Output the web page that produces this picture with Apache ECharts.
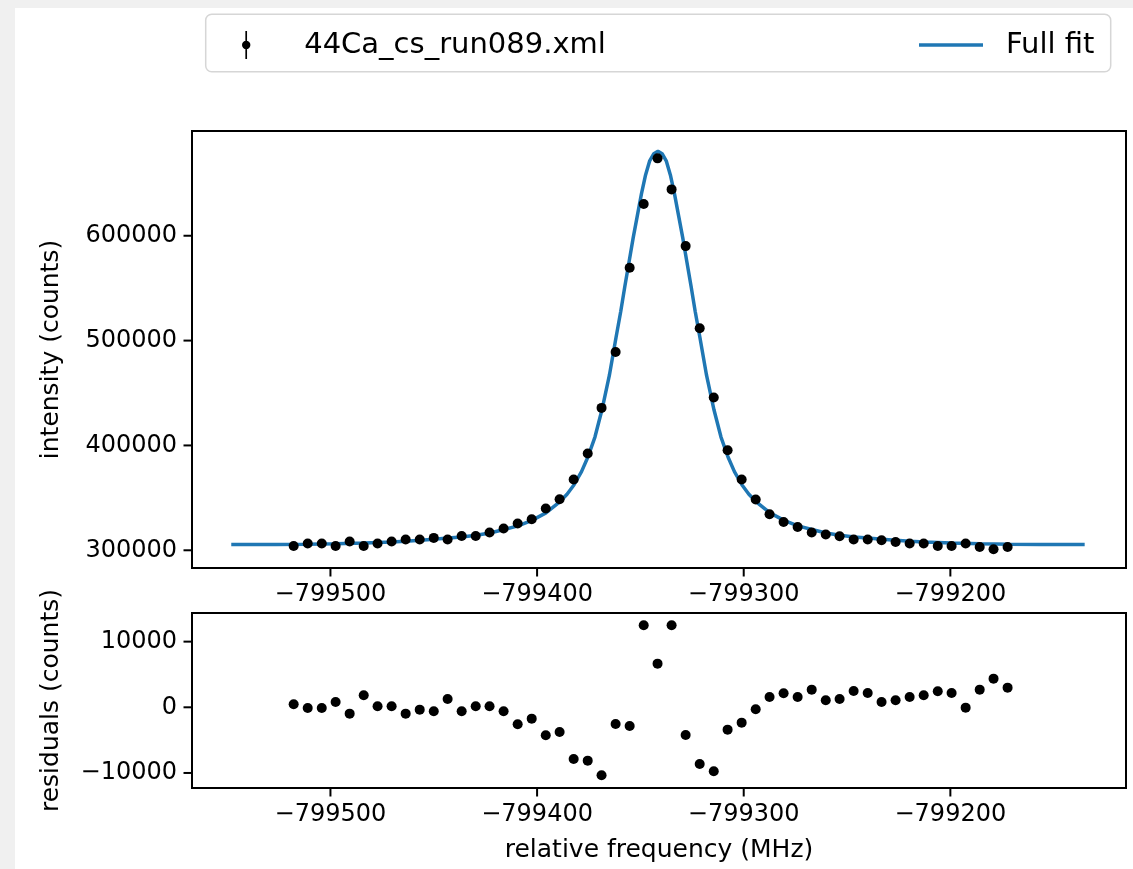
<!DOCTYPE html>
<html>
<head>
<meta charset="utf-8">
<script src="https://cdn.jsdelivr.net/npm/echarts@6/dist/echarts.min.js"></script>
</head>
<body style="margin: 0; background: #f0f0f0;">
<div id="figure" style="position: absolute; left: 15px; top: 8px; width: 1118px; height: 861px; background: #fff;">
  <div id="top" style="position: absolute; left: 0; top: 0; width: 1118px; height: 861px;"></div>
  <div id="bottom" style="position: absolute; left: 0; top: 0; width: 1118px; height: 861px;"></div>
</div>
<script>
// measured points (MHz, counts)
const freq = [
  -799517.8, -799511.0, -799504.2, -799497.5, -799490.7, -799483.9, -799477.2, -799470.4,
  -799463.6, -799456.8, -799450.0, -799443.3, -799436.5, -799429.7, -799423.0, -799416.2,
  -799409.4, -799402.6, -799395.8, -799389.1, -799382.3, -799375.5, -799368.8, -799362.0,
  -799355.2, -799348.4, -799341.7, -799334.9, -799328.1, -799321.3, -799314.5, -799307.8,
  -799301.0, -799294.2, -799287.5, -799280.7, -799273.9, -799267.1, -799260.3, -799253.6,
  -799246.8, -799240.0, -799233.3, -799226.5, -799219.7, -799212.9, -799206.1, -799199.4,
  -799192.6, -799185.8, -799179.1, -799172.3
];
const intensity = [
  304100, 306400, 306400, 304100, 308300, 304100, 306400, 308300,
  310200, 310200, 311800, 310200, 313700, 313700, 316900, 320700,
  325500, 329600, 339800, 348700, 367500, 392300, 435800, 489200,
  569400, 630200, 673800, 644200, 590100, 511800, 445700, 395400,
  367500, 348400, 334400, 327000, 322200, 316900, 315000, 313400,
  310200, 310200, 309500, 307900, 306400, 306400, 304100, 304100,
  306400, 303100, 301000, 303100
];
const residuals = [
  457, -100, -100, 812, -964, 1827, 152, 152,
  -964, -355, -609, 1269, -609, 152, 152, -609,
  -2589, -1726, -4264, -3756, -7868, -8122, -10355, -2538,
  -2843, 12487, 6650, 12487, -4213, -8630, -9746, -3401,
  -2335, -305, 1574, 2132, 1574, 2690, 1066, 1269,
  2487, 2183, 812, 1066, 1574, 1827, 2437, 2183,
  -51, 2690, 4365, 2995
];

// fit curve
const fitFreq = [
  -799548.0, -799526.5, -799511.5, -799497.5, -799483.5, -799470.5, -799463.5, -799456.5,
  -799449.9, -799443.1, -799436.5, -799429.5, -799422.8, -799416.0, -799409.2, -799402.5,
  -799395.7, -799388.9, -799385.5, -799382.1, -799378.5, -799375.4, -799372.0, -799368.6,
  -799365.0, -799361.8, -799359.5, -799357.5, -799355.5, -799353.5, -799351.5, -799349.5,
  -799347.5, -799345.5, -799343.5, -799341.5,
  -799339.5, -799337.5, -799335.5, -799333.5, -799331.5, -799329.5, -799327.5, -799325.5,
  -799323.5, -799321.2, -799318.0, -799314.4, -799311.0, -799307.6, -799304.5, -799300.9,
  -799297.5, -799294.1, -799287.3, -799280.5, -799273.8, -799267.0, -799260.2, -799253.5,
  -799246.5, -799239.9, -799233.1, -799226.5, -799219.5, -799212.5, -799199.5, -799185.5,
  -799171.5, -799156.5, -799135.0
];
const fitIntensity = [
  305400, 305600, 305800, 306200, 306900, 307900, 308600, 309500,
  310600, 311700, 312700, 314300, 316500, 319800, 323300, 328500,
  335700, 346500, 353500, 362500, 375000, 389000, 408000, 434000,
  467000, 503000, 528000, 552000, 575000, 598000, 619000, 640000,
  658000, 671500, 678300, 680700,
  678300, 671500, 658000, 640000, 619000, 598000, 575000, 552000,
  528000, 503000, 467000, 434000, 408000, 389000, 375000, 362500,
  353500, 346500, 335700, 328500, 323300, 319800, 316500, 314300,
  312700, 311700, 310600, 309500, 308600, 307900, 306900, 306200,
  305800, 305600, 305400
];

const freqTicks = [-799500, -799400, -799300, -799200];
const intensityTicks = [300000, 400000, 500000, 600000];
const residualTicks = [-10000, 0, 10000];

const freqMin = -799567, freqMax = -799115;
const font = 'DejaVu Sans';
const dataName = '44Ca_cs_run089.xml';
const tickLen = 8.5;

function minus(v) {
  return (v < 0 ? '\u2212' : '') + Math.abs(v);
}

function pairs(xs, ys) {
  return xs.map(function (x, i) { return [x, ys[i]]; });
}

function axisFor(min, max, ticks, name, gap, position) {
  return {
    type: 'value',
    position: position,
    min: min,
    max: max,
    name: name,
    nameLocation: 'middle',
    nameGap: gap,
    nameTextStyle: { fontFamily: font, fontSize: 25, color: '#000' },
    splitLine: { show: false },
    axisLine: { show: true, onZero: false, lineStyle: { color: '#000', width: 2 } },
    axisTick: { show: false },
    axisLabel: { customValues: ticks, formatter: minus, margin: 15, fontFamily: font, fontSize: 24, color: '#000' }
  };
}

// outward tick marks, placed through the axes at the tick values
function tickSeries(xTicks, yTicks, yMin) {
  let items = xTicks.map(function (v) { return [v, yMin, 0]; })
    .concat(yTicks.map(function (v) { return [freqMin, v, 1]; }));
  return {
    type: 'custom',
    silent: true,
    clip: false,
    z: 5,
    data: items,
    renderItem: function (params, api) {
      let p = api.coord([api.value(0), api.value(1)]);
      let vertical = api.value(2) === 0;
      return {
        type: 'line',
        shape: vertical
          ? { x1: p[0], y1: p[1], x2: p[0], y2: p[1] + tickLen }
          : { x1: p[0] - tickLen, y1: p[1], x2: p[0], y2: p[1] },
        style: { stroke: '#000', lineWidth: 2 }
      };
    }
  };
}

function gridAt(top, height) {
  return { left: 177, top: top, width: 934, height: height, show: true, borderColor: '#000', borderWidth: 2 };
}

// upper panel: spectrum with fit, plus the legend
let topChart = echarts.init(document.getElementById('top'));
topChart.setOption({
  animation: false,
  grid: gridAt(123, 437),
  graphic: [
    {
      type: 'rect',
      z: 1,
      shape: { x: 190.7, y: 6.3, width: 905, height: 57.4, r: 6 },
      style: { fill: '#fff', stroke: '#d6d6d6', lineWidth: 1.5 }
    }
  ],
  legend: [
    {
      left: 227, top: 22, padding: 0, z: 10,
      selectedMode: false,
      itemWidth: 10, itemHeight: 28,
      data: [{
        name: dataName,
        icon: 'path://M4.1,0 L5.9,0 L5.9,30 L4.1,30 Z M0.5,15 A4.5,4.5 0 1,1 9.5,15 A4.5,4.5 0 1,1 0.5,15 Z',
        itemStyle: { color: '#000' }
      }],
      textStyle: { fontFamily: font, fontSize: 29, color: '#000', lineHeight: 30, padding: [0, 0, 0, 48] }
    },
    {
      left: 904, top: 22, padding: 0, z: 10,
      selectedMode: false,
      itemWidth: 64, itemHeight: 3.5,
      data: [{ name: 'Full fit', icon: 'rect' }],
      textStyle: { fontFamily: font, fontSize: 29, color: '#000', lineHeight: 30, padding: [0, 0, 0, 18] }
    }
  ],
  xAxis: axisFor(freqMin, freqMax, freqTicks, '', 50, 'bottom'),
  yAxis: axisFor(283100, 699900, intensityTicks, 'intensity (counts)', 128, 'left'),
  series: [
    {
      name: 'Full fit',
      type: 'line',
      data: pairs(fitFreq, fitIntensity),
      showSymbol: false,
      smooth: false,
      z: 2,
      itemStyle: { color: '#1f77b4' },
      lineStyle: { color: '#1f77b4', width: 3.5 }
    },
    {
      name: dataName,
      type: 'scatter',
      data: pairs(freq, intensity),
      symbolSize: 10,
      z: 3,
      itemStyle: { color: '#000', opacity: 1 }
    },
    tickSeries(freqTicks, intensityTicks, 283100)
  ]
});

// lower panel: residuals
let bottomChart = echarts.init(document.getElementById('bottom'));
bottomChart.setOption({
  animation: false,
  grid: gridAt(605, 175),
  xAxis: axisFor(freqMin, freqMax, freqTicks, 'relative frequency (MHz)', 50, 'bottom'),
  yAxis: axisFor(-12290, 14360, residualTicks, 'residuals (counts)', 128, 'left'),
  series: [
    {
      name: 'residuals',
      type: 'scatter',
      data: pairs(freq, residuals),
      symbolSize: 10,
      itemStyle: { color: '#000', opacity: 1 }
    },
    tickSeries(freqTicks, residualTicks, -12290)
  ]
});
</script>
</body>
</html>
